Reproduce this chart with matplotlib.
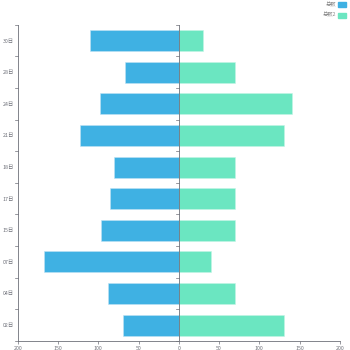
import numpy as np
import matplotlib.pyplot as plt
from matplotlib.patches import Rectangle

plt.rcParams['font.family'] = ['Noto Sans CJK SC', 'DejaVu Sans']

# days, bottom to top
days = ["02日", "04日", "07日", "15日", "17日", "18日", "21日", "24日", "28日", "30日"]
total = [70, 88, 167, 97, 85, 80, 123, 98, 67, 110]
total2 = [130, 70, 40, 70, 70, 70, 130, 140, 70, 30]
series_names = ["总数", "总数2"]

BLUE = "#3fb1e3"
GREEN = "#6be6c1"
GREY = "#6e7079"

fig = plt.figure(figsize=(3.5, 3.5), dpi=100)
ax = fig.add_axes([0.051, 0.026, 0.92, 0.903])

y = np.arange(len(days))
ax.barh(y, -np.array(total), height=0.66, color=BLUE, edgecolor="#bfe3f5", linewidth=0.4)
ax.barh(y, total2, height=0.66, color=GREEN, edgecolor="#c4f5e6", linewidth=0.4)

ax.set_xlim(-200, 200)
ax.set_ylim(-0.5, len(days) - 0.5)

xt = np.arange(-200, 201, 50)
ax.set_xticks(xt)
ax.set_xticklabels([str(abs(v)) for v in xt], fontsize=3.8, color=GREY)
ax.set_yticks(y)
ax.set_yticklabels(days, fontsize=3.8, color=GREY)
ax.tick_params(axis="y", length=0, pad=3)
ax.tick_params(axis="x", length=2.5, width=0.5, color=GREY, pad=1.5)

# band boundary ticks on left spine and on the zero line
for b in np.arange(-0.5, len(days) + 0.5, 1):
    ax.plot([-203, -200], [b, b], color=GREY, lw=0.5, clip_on=False)
    ax.plot([-3, 0], [b, b], color=GREY, lw=0.5, clip_on=False)

ax.axvline(0, color=GREY, lw=0.6)
for s in ["top", "right"]:
    ax.spines[s].set_visible(False)
for s in ["left", "bottom"]:
    ax.spines[s].set_color(GREY)
    ax.spines[s].set_linewidth(0.6)

# legend in the top-right corner
for i, (name, c) in enumerate(zip(series_names, [BLUE, GREEN])):
    yy = 0.986 - i * 0.029
    fig.patches.append(Rectangle((0.966, yy - 0.007), 0.023, 0.014, transform=fig.transFigure,
                                 color=c, figure=fig))
    fig.text(0.96, yy, name, fontsize=3.8, color="#888888", ha="right", va="center")

fig.savefig("out.png", dpi=100)
